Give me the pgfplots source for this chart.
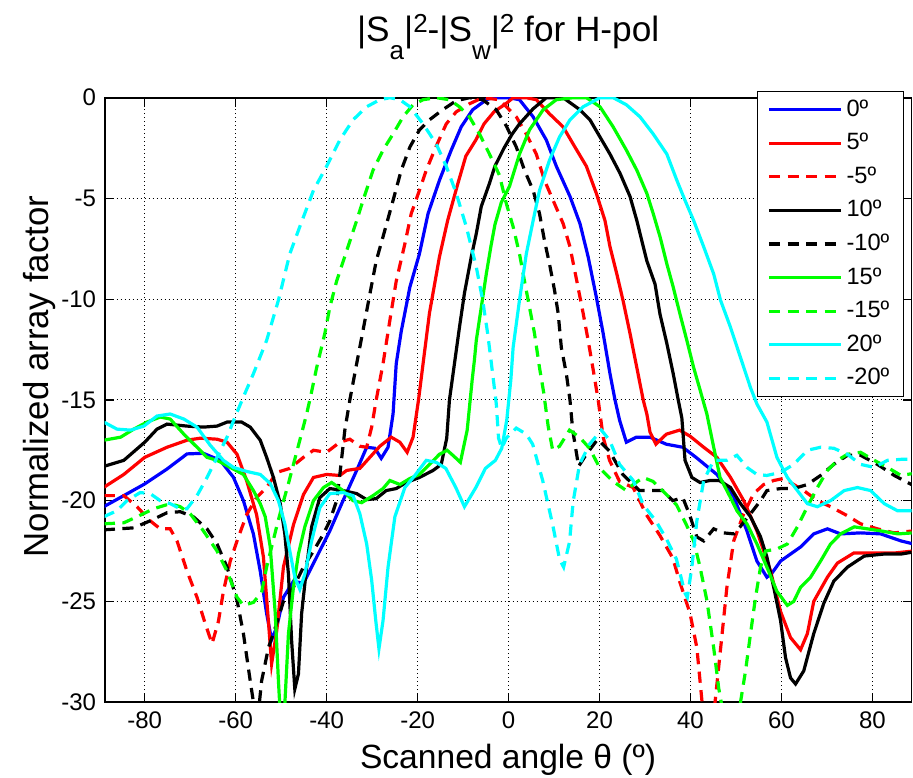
\documentclass[border=0pt]{standalone}
\usepackage{fontspec}
\setmainfont{Liberation Sans}
\usepackage{pgfplots}
\pgfplotsset{compat=1.18}

\definecolor{mblue}{rgb}{0,0,1}
\definecolor{mred}{rgb}{1,0,0}
\definecolor{mgreen}{rgb}{0,1,0}
\definecolor{mcyan}{rgb}{0,1,1}

\newcommand{\msub}[1]{\raisebox{-9pt}{\fontsize{13}{13}\selectfont #1}}
\newcommand{\msup}[1]{\raisebox{4.8pt}{\fontsize{13}{13}\selectfont #1}}

\begin{document}
\begin{tikzpicture}
\path[use as bounding box] (-52.35pt,-37.9pt) rectangle (404.15pt,351.05pt);
\begin{axis}[
  scale only axis, width=403.4pt, height=302.2pt,
  xmin=-88.8, xmax=88.6, ymin=-30, ymax=0,
  xtick={-80,-60,...,80}, ytick={-30,-25,...,0},
  grid=major,
  major grid style={black, line width=0.5pt, dash pattern=on 0.5pt off 1.5pt},
  tick align=inside, major tick length=4.5pt,
  axis line style={line width=0.9pt},
  tick style={black, line width=0.6pt},
  ticklabel style={font=\fontsize{12}{14}\selectfont},
  xticklabel style={yshift=-1.3pt},
  yticklabel style={xshift=-0.8pt},
  /pgf/number format/assume math mode=true,
  no markers,
  every axis title/.style={at={(0.5,1.0927)}, anchor=base, font=\fontsize{17.6}{20}\selectfont},
  every axis x label/.style={at={(0.5,-0.1092)}, anchor=base, font=\fontsize{16.8}{20}\selectfont},
  every axis y label/.style={at={(-0.0699,0.5385)}, rotate=90, anchor=base, font=\fontsize{17.4}{20}\selectfont},
  title={|S\msub{a}|\msup{2}-|S\msub{w}|\msup{2} for H-pol},
  xlabel={Scanned angle θ (º)},
  ylabel={Normalized array factor},
  legend cell align=left,
  legend image code/.code={\draw[#1] (0pt,0pt) -- (36pt,0pt);},
  legend style={at={(0.808,1.0117)}, anchor=north west, draw=black, line width=0.7pt,
    fill=white, inner xsep=5pt, inner ysep=2pt, row sep=2.6pt,
    font=\fontsize{11.8}{13}\selectfont,
    nodes={inner sep=2pt, text height=8.4pt, text depth=1.8pt}},
  dashd/.style={dash pattern=on 5.6pt off 3.7pt},
  every axis plot/.append style={line width=1.6pt},
]
% 0 deg
\addplot[mblue] coordinates {
(-89,-20.3) (-84.6,-19.75) (-80,-19.17) (-75.1,-18.43) (-70.7,-17.68) (-67.1,-17.65) (-63.4,-18.0) (-60.5,-18.84) (-58.3,-20) (-56.1,-21.66) (-54.6,-23.5) (-53.2,-25.6) (-52.1,-26.9) (-51,-26.3) (-49.5,-24.8) (-47.3,-24) (-45.1,-24.1) (-42.2,-22.8) (-39.3,-21.5) (-36.4,-20) (-33.4,-18.5) (-31.2,-17.35) (-29.4,-17.4) (-28,-17.9) (-26.5,-17.35) (-25.4,-15.7) (-24.7,-13.2) (-23.6,-11.6) (-21.7,-9.4) (-19.6,-7.75) (-17.7,-5.75) (-15.2,-4.1) (-12.6,-2.6) (-10.4,-1.44) (-7.9,-0.6) (-4.9,-0.1) (-3.5,0) (0,0) (2.4,-0.1) (5.4,-0.95) (8.3,-2.1) (10.5,-3.4) (13.5,-4.9) (15.7,-6.25) (17.5,-7.9) (19.3,-9.9) (20.8,-11.7) (22.3,-13.7) (23.4,-15) (24.4,-16) (25.9,-17.1) (28.1,-16.85) (31.1,-16.85) (34.7,-17.2) (38.3,-17.35) (41.2,-17.85) (45.8,-18.7) (49.5,-19.8) (52.4,-21.5) (54.6,-23) (56.8,-23.8) (57.9,-23.6) (59.8,-23) (62,-22.65) (64.2,-22.3) (67.1,-21.65) (70.1,-21.4) (73,-21.65) (77.4,-21.6) (81.8,-21.65) (86.3,-22) (89,-22.15)
};
\addlegendentry{0º}
% 5 deg
\addplot[mred] coordinates {
(-89,-19.34) (-84.6,-18.7) (-80,-17.85) (-75.1,-17.35) (-70.7,-17.0) (-67.8,-16.9) (-64.1,-16.95) (-61.9,-17.1) (-59.7,-17.7) (-57.6,-19.0) (-55.4,-20.7) (-53.9,-22.8) (-52.8,-26) (-52.1,-28.1) (-51,-26.5) (-49.5,-23.3) (-47.3,-21.2) (-45.1,-19.7) (-42.9,-18.85) (-40,-18.7) (-37.1,-18.75) (-35.6,-18.5) (-32.7,-18.4) (-30.5,-17.85) (-28.3,-17.3) (-25.8,-16.85) (-23.9,-17.1) (-22.3,-17.6) (-21,-16.85) (-19.8,-15) (-18.8,-13.2) (-17.4,-10.7) (-15.2,-7.9) (-13.4,-6.1) (-11.2,-4.3) (-9.4,-2.9) (-7.2,-2.1) (-5.4,-1.3) (-3.2,-0.7) (-0.6,-0.3) (1,0) (3.9,0) (6.1,-0.1) (9,-0.8) (12,-1.45) (14.2,-2.3) (17.1,-3.4) (19.3,-4.75) (21.2,-6.1) (22.3,-7.4) (23.8,-8.75) (25.2,-10.1) (26.7,-11.7) (28.2,-13.4) (29.6,-15) (30.4,-15.7) (31.1,-16.6) (32.4,-17.2) (33.3,-17.0) (34.7,-16.7) (37.6,-16.5) (39.9,-16.8) (42.9,-17.35) (45.8,-17.85) (48.8,-18.85) (51.7,-20) (54.6,-21.5) (57.6,-23.5) (59.8,-25.5) (62,-26.8) (64.2,-27.4) (65.7,-26.6) (67.1,-25) (70.1,-23.8) (72.3,-23.1) (75.9,-22.6) (80.4,-22.6) (84.8,-22.6) (89,-22.5)
};
\addlegendentry{5º}
% -5 deg
\addplot[mred, dashd] coordinates {
(-89,-19.75) (-84.6,-19.75) (-81.7,-20.3) (-78.8,-21) (-76.6,-21.4) (-74.4,-21.4) (-72.9,-22) (-70.7,-23.5) (-68.5,-24.8) (-66.7,-26.1) (-65.2,-27.1) (-63.8,-26) (-62.7,-24.5) (-61.2,-23) (-59.7,-22) (-57.6,-20.7) (-55.4,-19.85) (-53.2,-19.35) (-51,-18.6) (-48.1,-18.4) (-45.1,-17.85) (-42.9,-17.5) (-40,-17.6) (-37.1,-17.1) (-34.9,-16.95) (-32.7,-17.3) (-31.2,-17.35) (-30.1,-16.35) (-29.1,-15) (-27.6,-13.2) (-26.1,-11.05) (-24.7,-9.1) (-22.8,-7.25) (-21.4,-5.75) (-19.6,-4.6) (-18.1,-3.6) (-16,-2.45) (-13.7,-1.3) (-11.5,-0.7) (-8.6,-0.3) (-5.7,0) (-2.0,-0.1) (-0.5,-0.45) (1.7,-0.95) (3.9,-1.8) (6.1,-2.8) (7.9,-4.1) (9.8,-5.1) (12,-6.25) (13.5,-7.4) (15,-9.1) (16.4,-10.7) (17.5,-12.05) (18.6,-13.5) (19.7,-15) (20.8,-16.85) (22.2,-18.0) (24.4,-19.05) (27.4,-19.35) (30.3,-20.7) (33.2,-21.7) (36.1,-22.85) (37.6,-24) (39.9,-25.6) (41.4,-27.3) (42.5,-29.9) (43.5,-32) (44.8,-32) (45.4,-30) (46.5,-27.6) (48,-24.3) (49.5,-22) (51.7,-20.65) (53.9,-19.65) (56.1,-19.2) (58.3,-19) (60.5,-18.9) (62.7,-19.2) (64.9,-19.5) (67.9,-20) (70.8,-20.3) (74.5,-20.75) (77.4,-21.15) (81.1,-21.4) (84.8,-21.6) (89,-21.5)
};
\addlegendentry{-5º}
% 10 deg
\addplot[black] coordinates {
(-89,-18.3) (-84.6,-18.0) (-80,-17.1) (-77.3,-16.45) (-75.1,-16.2) (-70.7,-16.3) (-67.1,-16.35) (-64.1,-16.3) (-61.9,-16.1) (-58.7,-16.1) (-56.8,-16.35) (-54.6,-17) (-53.2,-17.85) (-51.7,-18.85) (-50.2,-20.15) (-49.2,-21.65) (-48.4,-23.65) (-47.7,-26.95) (-47,-29.35) (-46.2,-28.6) (-45.5,-25.6) (-44.4,-23.3) (-43.3,-21.3) (-41.5,-19.85) (-39.3,-19.4) (-36.4,-19.5) (-33.4,-19.65) (-31.2,-19.95) (-29.1,-19.9) (-26.9,-19.5) (-24.7,-19.4) (-22.5,-19.1) (-19.6,-18.85) (-16.6,-18.5) (-14.8,-18.2) (-13.6,-16.9) (-13,-15) (-11.9,-13.2) (-10.8,-11.4) (-9.7,-9.7) (-8.2,-7.9) (-7.1,-6.75) (-6,-5.4) (-4.2,-4.25) (-3,-3.4) (-1,-2.5) (0.8,-1.8) (2.4,-1.3) (5.4,-0.55) (8.3,0) (12,0) (15.7,-0.6) (17.9,-1.1) (20.1,-1.95) (22.3,-2.8) (24.5,-3.75) (26.7,-4.9) (28.2,-6.1) (30.4,-8.1) (32.2,-9.25) (33.3,-10.75) (34.8,-12.2) (36.2,-13.7) (37.3,-15) (38.1,-15.9) (38.8,-18) (40.3,-18.85) (42.1,-19.1) (44.3,-19) (46.3,-19) (48.8,-19.35) (51,-20.15) (53.2,-20.8) (55.4,-21.8) (56.8,-22.8) (58.3,-24.3) (59.8,-25.95) (60.9,-27.8) (62,-28.8) (63.1,-29.1) (64.9,-28.45) (67.1,-26.6) (69.3,-25.1) (71.5,-24) (74.5,-23.3) (78.2,-22.75) (82.6,-22.65) (86.3,-22.65) (89,-22.55)
};
\addlegendentry{10º}
% -10 deg
\addplot[black, dashd] coordinates {
(-89,-21.45) (-82.4,-21.35) (-78.8,-21) (-75.1,-20.6) (-72.2,-20.55) (-69.3,-20.8) (-66.3,-21.4) (-64.1,-22.15) (-61.9,-23.3) (-59.7,-24.95) (-58.3,-26.6) (-56.8,-28.95) (-56.1,-30) (-55.6,-31) (-55,-30.5) (-54.3,-28.95) (-52.8,-27.3) (-51,-26.1) (-49.5,-25) (-47.3,-24.3) (-45.1,-23.3) (-42.9,-22.5) (-40.7,-21.65) (-39.3,-21) (-37.8,-20) (-37.1,-18.7) (-36,-16.5) (-34.9,-15) (-33.4,-13.2) (-32,-11.55) (-30.5,-9.75) (-29.1,-8.1) (-27.6,-6.9) (-25.4,-5.1) (-23.6,-3.6) (-21.7,-2.45) (-19.6,-1.6) (-17.4,-1.1) (-14.5,-0.6) (-11.5,-0.15) (-8.6,0) (-5.7,-0.1) (-2.7,-0.6) (-0.5,-1.4) (1.7,-2.45) (3.5,-3.6) (5.4,-4.6) (6.8,-5.75) (7.9,-7.1) (9,-8.25) (10.1,-9.55) (10.9,-10.7) (11.6,-12.4) (12.7,-13.7) (13.5,-15) (14.1,-16.5) (15.4,-18.3) (17.1,-17.7) (19.6,-16.95) (22.2,-17.55) (25.1,-18.7) (28.8,-19.5) (31.7,-19.5) (33.9,-19.5) (36.1,-20.0) (38.3,-19.85) (39.8,-20.7) (41.4,-21.8) (42.9,-22) (45.1,-21.4) (47.3,-21.6) (49.5,-21.65) (50.9,-21.3) (53.2,-20.65) (55.4,-20) (56.8,-19.5) (59.8,-19.4) (62.7,-19.4) (65.7,-19.2) (68.6,-18.75) (71.5,-18.2) (74.5,-17.75) (77.4,-17.75) (81.1,-18.2) (84.8,-18.75) (89,-19.25)
};
\addlegendentry{-10º}
% 15 deg
\addplot[mgreen] coordinates {
(-89,-17.0) (-85.3,-16.85) (-82.4,-16.45) (-79.5,-16.1) (-76.6,-15.85) (-74.4,-15.95) (-71.4,-16.7) (-68.5,-17.35) (-66.3,-17.85) (-64.1,-18) (-61.2,-18.35) (-58.3,-18.7) (-56.1,-19.5) (-54.6,-20.15) (-53.5,-20.8) (-52.4,-22.3) (-51.3,-25.6) (-50.6,-28.95) (-50.1,-31) (-49.4,-31) (-48.4,-26.6) (-47.3,-24.3) (-46.2,-22.65) (-44.8,-21.3) (-42.9,-20) (-40.7,-19.35) (-38.9,-19.1) (-36.4,-19.5) (-34.2,-20) (-32.3,-20.1) (-29.8,-19.75) (-27.6,-19.4) (-26.1,-19) (-23.9,-19.2) (-21.7,-18.9) (-19.6,-18.7) (-17.4,-18.2) (-15.2,-17.7) (-13.5,-17.5) (-12,-17.8) (-10.6,-18.1) (-9.1,-16.5) (-8,-14) (-7.5,-13) (-7.1,-12.05) (-6,-10.4) (-4.9,-8.75) (-3.9,-7.4) (-3.0,-6.3) (-1.6,-5.2) (0.2,-4.4) (2.4,-2.8) (4.6,-1.6) (7.6,-0.6) (10.5,-0.1) (14.2,0) (17.1,0) (20.1,-0.45) (23,-1.45) (25.9,-2.6) (28.2,-3.6) (30.4,-4.75) (31.8,-5.75) (33.3,-6.9) (34.8,-8.25) (36.2,-9.4) (37.7,-10.75) (39.2,-12.05) (40.7,-13.4) (42.1,-14.5) (43.6,-15.7) (45.1,-17.35) (46.5,-18.85) (48.8,-19.85) (50.2,-20.5) (52.4,-21.15) (54.6,-22.15) (56.8,-23.3) (59,-24.5) (61.3,-25.2) (62.7,-25) (64.2,-24.3) (66.4,-23.8) (68.6,-23) (70.8,-22.15) (73,-21.65) (76,-21.3) (78.9,-21.4) (81.8,-21.5) (85.6,-21.65) (89,-21.6)
};
\addlegendentry{15º}
% -15 deg
\addplot[mgreen, dashd] coordinates {
(-89,-21.15) (-84.6,-21.1) (-81.7,-20.8) (-78,-20.4) (-74.4,-20.15) (-72.2,-20.3) (-70,-20.65) (-67.1,-21.5) (-64.1,-22.5) (-61.9,-23.5) (-59.7,-24.8) (-58.3,-25.2) (-56.1,-25.05) (-54.3,-24.55) (-53.2,-23.3) (-52.1,-22.3) (-51,-21.3) (-49.9,-20.35) (-48.4,-19.15) (-47.3,-18.2) (-45.9,-17) (-44.4,-15.7) (-43.5,-14.8) (-42.2,-13.4) (-40.4,-11.7) (-39.3,-10.4) (-37.8,-9.1) (-35.6,-7.6) (-33.4,-6.1) (-32,-5.1) (-29.8,-3.6) (-27.6,-2.6) (-25.4,-1.8) (-23.2,-0.95) (-21,-0.35) (-18.8,-0.1) (-15.9,0) (-13,-0.1) (-10.8,-0.45) (-8.6,-0.95) (-6.4,-1.8) (-4.2,-2.8) (-2,-3.85) (-0.5,-5.25) (1,-6.4) (2.4,-7.75) (3.5,-9.1) (4.6,-10.4) (5.7,-11.7) (6.8,-13.4) (7.7,-14.6) (8.7,-16.3) (9.7,-17.5) (11.2,-17.3) (13.4,-16.5) (15.6,-16.85) (17.8,-17.4) (20.1,-18.4) (23,-19.05) (25.9,-19.5) (27.4,-19.2) (29.6,-18.85) (31.8,-19.05) (34.7,-19.7) (36.9,-20.2) (39.1,-21.2) (40.7,-22) (42.1,-23.3) (43.6,-24.95) (45.1,-27.3) (46.2,-29.3) (46.9,-30.2) (48,-32) (50.3,-32) (51,-30) (52.1,-28.45) (53.2,-26.6) (54.3,-24.8) (55.4,-23.3) (56.5,-22.5) (59,-22.4) (61.3,-22.15) (63.5,-21.3) (65.7,-20.3) (67.9,-19.35) (70.1,-18.5) (72.3,-18) (74.5,-17.7) (77.4,-17.6) (80.4,-18) (83.3,-18.35) (86.3,-18.75) (89,-18.65)
};
\addlegendentry{-15º}
% 20 deg
\addplot[mcyan] coordinates {
(-89,-16.1) (-86.1,-16.45) (-83.1,-16.5) (-80.2,-16.3) (-77.3,-15.8) (-74.4,-15.7) (-71.4,-15.95) (-68.5,-16.35) (-65.6,-17.25) (-62.7,-18) (-60.5,-18.35) (-57.6,-18.55) (-54.6,-18.7) (-52.4,-19.15) (-50.6,-20) (-49.2,-21.15) (-48.1,-22.5) (-47,-23.8) (-45.9,-24.4) (-44.8,-23.65) (-43.3,-22) (-41.5,-20.35) (-39.3,-19.65) (-36.4,-19.6) (-34.2,-19.75) (-32.7,-20.65) (-31.2,-22.15) (-30.1,-23.95) (-29.2,-25.95) (-28.5,-27.35) (-27.6,-25.95) (-26.5,-23.3) (-25,-20.8) (-22.8,-19.35) (-20.6,-18.75) (-18.1,-18) (-15.9,-18.1) (-13.8,-18.4) (-11.6,-19.35) (-9.7,-20.3) (-7.2,-19.35) (-5.1,-18.4) (-2.9,-18.0) (-1.5,-17.4) (-0.4,-16.0) (0.5,-14) (1,-12.4) (2.4,-10.05) (3.9,-7.75) (5.4,-6.1) (6.8,-4.6) (9,-3.1) (11.2,-1.95) (13.5,-1.1) (16.4,-0.45) (20.1,0) (23,0) (25.9,-0.35) (28.9,-0.95) (31.8,-1.8) (34.8,-2.8) (37,-4.1) (38.8,-5.1) (40.7,-6.1) (42.9,-7.4) (45.1,-8.75) (46.6,-10.05) (48.8,-11.4) (51,-12.9) (53.2,-14.4) (54.6,-15.2) (56.8,-16.1) (59,-17.85) (61.3,-18.85) (63.5,-19.5) (65.7,-20.15) (67.9,-20.3) (70.8,-20) (73.8,-19.5) (76.7,-19.35) (79.6,-19.5) (82.6,-20.15) (85.5,-20.5) (89,-20.5)
};
\addlegendentry{20º}
% -20 deg
\addplot[mcyan, dashd] coordinates {
(-89,-20.8) (-86.1,-20.5) (-83.9,-20) (-81,-19.6) (-78.8,-19.65) (-76.6,-20) (-74.4,-20.15) (-72.2,-20.4) (-70.7,-20.4) (-68.5,-19.75) (-66.3,-18.85) (-64.1,-17.85) (-61.9,-16.85) (-60.5,-16.05) (-58.3,-14.85) (-56.1,-13.7) (-53.2,-12.05) (-50.6,-10.05) (-48.1,-7.75) (-45.9,-6.4) (-42.9,-4.6) (-40,-3.4) (-37.1,-2.1) (-34.2,-1.1) (-31.2,-0.45) (-28.3,-0.1) (-26.1,0) (-23.9,-0.1) (-21.7,-0.45) (-18.8,-1.3) (-15.9,-2.3) (-13.7,-3.4) (-11.5,-4.75) (-9.3,-6.4) (-7.1,-8.4) (-5.7,-10.05) (-4.6,-11.7) (-3.5,-13.7) (-2.7,-15.2) (-2.2,-16.9) (-1.5,-17.4) (-0.5,-16.9) (1.7,-16.4) (3.9,-16.7) (5.3,-17.2) (7.5,-19) (9.7,-21.2) (11.2,-22.9) (12.1,-23.3) (13.4,-22.05) (14.2,-20.05) (15.6,-18.2) (17.8,-17.2) (20.4,-16.5) (22.2,-17.0) (24.4,-18.2) (27.4,-19) (29.6,-20.2) (32.5,-21.05) (34.7,-21.9) (36.9,-22.9) (38.8,-24.6) (39.3,-24.8) (40.3,-23.3) (41.4,-21) (42.9,-19) (45.1,-18) (48,-18) (50.2,-17.75) (52.4,-18.35) (54.6,-18.7) (56.8,-18.75) (59.8,-18.6) (62.7,-18.2) (65.7,-17.5) (68.6,-17.35) (71.5,-17.4) (74.5,-17.7) (77.4,-18.2) (80.4,-18.35) (83.3,-18) (86.3,-17.95) (89,-17.95)
};
\addlegendentry{-20º}
\end{axis}
\end{tikzpicture}
\end{document}
